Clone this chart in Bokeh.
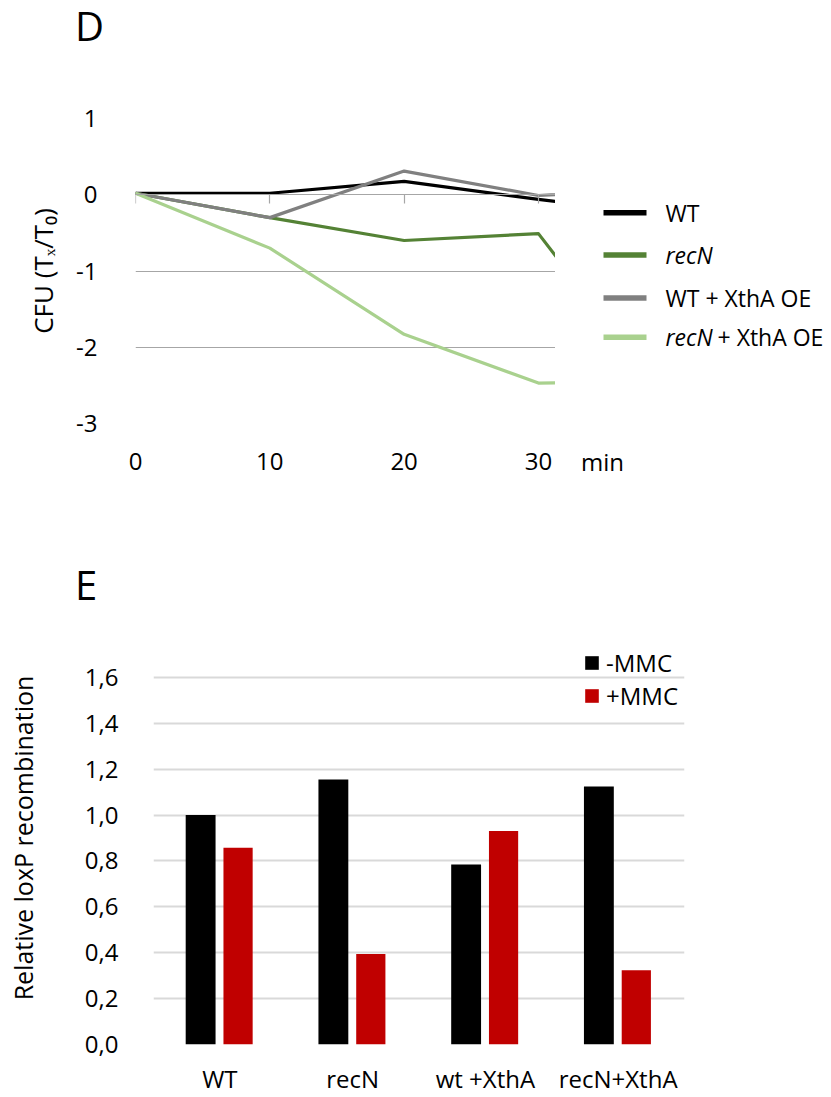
from bokeh.plotting import figure
from bokeh.models import (Range1d, FactorRange, LinearAxis, FixedTicker, Legend,
                          LegendItem, ColumnDataSource, Div)
from bokeh.layouts import column, row
from bokeh.transform import dodge
from bokeh.embed import file_html
from bokeh.resources import INLINE
from bokeh.core.properties import value

# ---------------- Panel D data ----------------
minutes = [0, 10, 20, 30, 40]
wt = [0.02, 0.02, 0.175, -0.06, -0.27]
recn = [0.02, -0.30, -0.60, -0.51, -2.8]
wt_xtha = [0.02, -0.30, 0.31, -0.01, 0.08]
recn_xtha = [0.02, -0.70, -1.83, -2.47, -2.45]
series_names = ["WT", "recN", "WT + XthA OE", "recN + XthA OE"]
series_colors = ["#000000", "#548235", "#808080", "#a9d18e"]
x_ticks_d = [0, 10, 20, 30]
y_ticks_d = [-3, -2, -1, 0, 1]
y_tick_labels_d = ["-3", "-2", "-1", "0", "1"]

# ---------------- Panel E data ----------------
cats = ["WT", "recN", "wt +XthA", "recN+XthA"]
minus_mmc = [1.00, 1.155, 0.785, 1.125]
plus_mmc = [0.857, 0.394, 0.930, 0.324]
e_ticks = [0.0, 0.2, 0.4, 0.6, 0.8, 1.0, 1.2, 1.4, 1.6]
e_tick_labels = ["0,0", "0,2", "0,4", "0,6", "0,8", "1,0", "1,2", "1,4", "1,6"]

FONT = "Open Sans"
GRID_D = "#a6a6a6"
GRID_E = "#d9d9d9"
TXT = "#000000"


def letter(txt, height, top, size, lh):
    return Div(text=('<div style="margin:0; padding:0; margin-left:70px; margin-top:%dpx; '
                     'font-family:\'Open Sans\'; font-size:%dpx; line-height:%dpx; color:#000;">%s</div>'
                     % (top, size, lh, txt)),
               width=825, height=height)


divD = letter("D", 41, 1, 40, 40)

# =============== Panel D ===============
pD = figure(width=555, height=490, x_range=Range1d(0, 31.27), y_range=Range1d(-3, 1),
            output_backend="svg", toolbar_location=None,
            min_border_left=135, min_border_right=0, min_border_top=67, min_border_bottom=118)
pD.outline_line_color = None
pD.xgrid.visible = False
pD.ygrid.ticker = FixedTicker(ticks=y_ticks_d)
pD.ygrid.grid_line_color = GRID_D
pD.ygrid.grid_line_width = 1.2

xa = pD.xaxis[0]
xa.ticker = FixedTicker(ticks=x_ticks_d)
xa.axis_line_color = None
xa.major_tick_line_color = None
xa.minor_tick_line_color = None
xa.major_label_text_font = FONT
xa.major_label_text_font_size = "24px"
xa.major_label_text_color = TXT
xa.major_label_standoff = 23

ya = pD.yaxis[0]
ya.ticker = FixedTicker(ticks=y_ticks_d)
ya.major_label_overrides = {t: l for t, l in zip(y_ticks_d, y_tick_labels_d)}
ya.axis_line_color = None
ya.major_tick_line_color = None
ya.minor_tick_line_color = None
ya.major_label_text_font = FONT
ya.major_label_text_font_size = "24px"
ya.major_label_text_color = TXT
ya.major_label_standoff = 32
ya.axis_label = "CFU (T\u2093/T\u2080)"
ya.axis_label_text_font = FONT
ya.axis_label_text_font_size = "26px"
ya.axis_label_text_font_style = "normal"
ya.axis_label_text_color = TXT
ya.axis_label_standoff = 12

zero_axis = LinearAxis(fixed_location=0, ticker=FixedTicker(ticks=x_ticks_d),
                       axis_line_color=GRID_D, axis_line_width=1.2,
                       major_tick_line_color=GRID_D, major_tick_line_width=1.2,
                       major_tick_out=9, major_tick_in=0,
                       minor_tick_line_color=None,
                       major_label_text_color=None)
pD.add_layout(zero_axis, "below")

srcD = ColumnDataSource(dict(x=minutes, wt=wt, recn=recn, wt_xtha=wt_xtha, recn_xtha=recn_xtha))
for col, colr in zip(["wt", "recn", "wt_xtha", "recn_xtha"], series_colors):
    pD.line("x", col, source=srcD, line_color=colr, line_width=3.2, line_join="round")

# legend / "min" side figure (coordinates in page pixels)
pL = figure(width=270, height=490, x_range=Range1d(555, 825), y_range=Range1d(422, 118),
            output_backend="svg", toolbar_location=None,
            min_border_left=0, min_border_right=0, min_border_top=67, min_border_bottom=118,
            y_axis_location=None)
pL.outline_line_color = None
pL.grid.visible = False
xl = pL.xaxis[0]
xl.ticker = FixedTicker(ticks=[602])
xl.major_label_overrides = {602: "min"}
xl.axis_line_color = None
xl.major_tick_line_color = None
xl.minor_tick_line_color = None
xl.major_label_text_font = FONT
xl.major_label_text_font_size = "24px"
xl.major_label_text_color = TXT
xl.major_label_standoff = 15

row_y = [212, 254, 297, 336]
pL.segment(x0=[603] * 4, x1=[646] * 4, y0=row_y, y1=row_y, line_color=series_colors, line_width=5.5)
ital_x, ital_y, ital_t = [], [], []
norm_x, norm_y, norm_t = [], [], []
for name, yy in zip(series_names, row_y):
    if name.startswith("recN"):
        ital_x.append(665); ital_y.append(yy); ital_t.append("recN")
        rest = name[len("recN"):].strip()
        if rest:
            norm_x.append(717); norm_y.append(yy); norm_t.append(rest)
    else:
        norm_x.append(665); norm_y.append(yy); norm_t.append(name)
pL.text(x=ital_x, y=ital_y, text=ital_t, text_font=value(FONT), text_font_size="23px",
        text_font_style="italic", text_baseline="middle", text_color=TXT)
pL.text(x=norm_x, y=norm_y, text=norm_t, text_font=value(FONT), text_font_size="23px",
        text_baseline="middle", text_color=TXT)

divE = letter("E", 59, 19, 40, 40)

# =============== Panel E ===============
pE = figure(width=750, height=487, x_range=FactorRange(*cats, range_padding=0),
            y_range=Range1d(0, 1.8), output_backend="svg", toolbar_location=None,
            min_border_left=153, min_border_right=66, min_border_top=21, min_border_bottom=49)
pE.outline_line_color = None
pE.xgrid.visible = False
pE.ygrid.ticker = FixedTicker(ticks=e_ticks)
pE.ygrid.grid_line_color = GRID_E
pE.ygrid.grid_line_width = 2

srcE = ColumnDataSource(dict(cat=cats, minus=minus_mmc, plus=plus_mmc))
r1 = pE.vbar(x=dodge("cat", -0.145, range=pE.x_range), top="minus", width=0.225,
             source=srcE, fill_color="#000000", line_color=None)
r2 = pE.vbar(x=dodge("cat", 0.137, range=pE.x_range), top="plus", width=0.22,
             source=srcE, fill_color="#c00000", line_color=None)

xe = pE.xaxis[0]
xe.axis_line_color = None
xe.major_tick_line_color = None
xe.major_tick_out = 0
xe.minor_tick_line_color = None
xe.minor_tick_out = 0
xe.major_label_text_font = FONT
xe.major_label_text_font_size = "24px"
xe.major_label_text_color = TXT
xe.major_label_standoff = 17

ye = pE.yaxis[0]
ye.ticker = FixedTicker(ticks=e_ticks)
ye.major_label_overrides = {t: l for t, l in zip(e_ticks, e_tick_labels)}
ye.axis_line_color = None
ye.major_tick_line_color = None
ye.minor_tick_line_color = None
ye.major_label_text_font = FONT
ye.major_label_text_font_size = "24px"
ye.major_label_text_color = TXT
ye.major_label_standoff = 29
ye.axis_label = "Relative loxP recombination"
ye.axis_label_text_font = FONT
ye.axis_label_text_font_size = "25px"
ye.axis_label_text_font_style = "normal"
ye.axis_label_text_color = TXT
ye.axis_label_standoff = 42

leg = Legend(items=[LegendItem(label="-MMC", renderers=[r1]),
                    LegendItem(label="+MMC", renderers=[r2])],
             location=(430, 332), orientation="vertical",
             glyph_width=17, glyph_height=17, label_height=31, spacing=0,
             padding=0, margin=0, label_standoff=6,
             label_text_font=FONT, label_text_font_size="24px", label_text_color=TXT,
             border_line_color=None, background_fill_alpha=0)
pE.add_layout(leg)

layout = column(divD, row(pD, pL), divE, pE)
open("out.html", "w").write(file_html(layout, INLINE))
